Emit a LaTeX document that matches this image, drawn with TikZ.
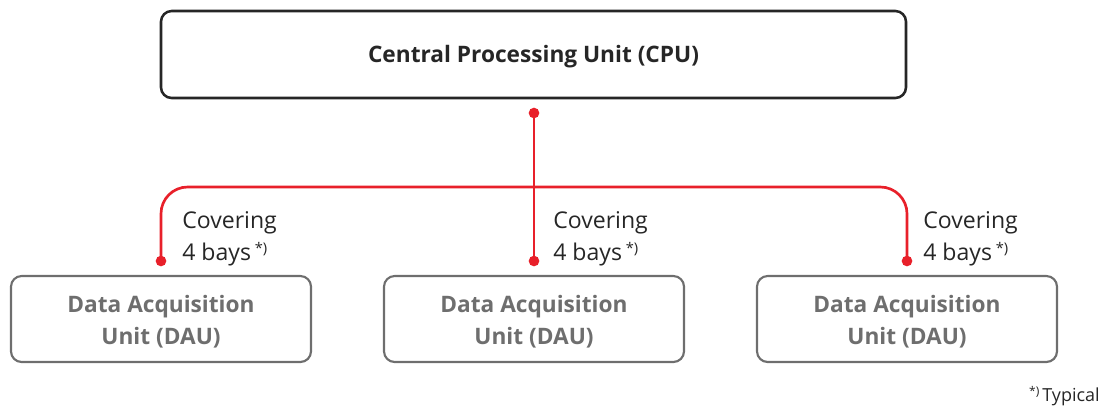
\documentclass[tikz,border=0pt]{standalone}
\usepackage{fontspec}
\setmainfont{Open Sans}
\definecolor{abbred}{HTML}{E8202A}
\definecolor{ink}{HTML}{262626}
\definecolor{unitgrey}{HTML}{6E6E6E}
\tikzset{
  mainbox/.style={draw=ink, line width=1.9pt, rounded corners=8pt, minimum width=558.75pt, minimum height=65.25pt, text=ink},
  unitbox/.style={draw=unitgrey, line width=1.6pt, rounded corners=8pt, minimum width=225pt, minimum height=64.5pt, text=unitgrey},
  boxtext/.style={font=\bfseries\fontsize{17}{24}\selectfont, align=center, inner sep=0pt},
  link/.style={draw=abbred, line width=2pt},
  joint/.style={fill=abbred, circle, inner sep=0pt, minimum size=8pt},
  note/.style={font=\fontsize{17.3}{24}\selectfont, text=ink, align=left, anchor=north west, inner sep=0pt},
}
\begin{document}
\begin{tikzpicture}[x=0.75pt, y=-0.75pt]
  \useasboundingbox (0,0) rectangle (1113,405);
  % processing unit and acquisition units
  \node[mainbox] (cpu) at (533.5,54.5) {};
  \node[boxtext, text=ink] at (533.5,57) {Central Processing Unit (CPU)};
  \foreach \i/\x in {1/161,2/534,3/907} {
    \node[unitbox] (dau\i) at (\x,319) {};
    \node[boxtext, text=unitgrey] at (\x,321.5) {Data Acquisition\\Unit (DAU)};
  }
  % connection points
  \coordinate (top) at (534,113);
  \coordinate (hub) at (534,187);
  \coordinate (end1) at (161,261);
  \coordinate (end2) at (534,261);
  \coordinate (end3) at (907,261);
  % bus lines
  \draw[link] (top) -- (end2);
  \draw[link, rounded corners=20pt] (end1) |- (hub) -| (end3);
  \foreach \p in {top,end1,end2,end3} \node[joint] at (\p) {};
  % coverage notes
  \node[note] (n1) at (182,211) {Covering\\4 bays\,{\fontsize{11}{12}\selectfont\raisebox{0.45em}{*)}}};
  \node[note] (n2) at (553,211) {Covering\\4 bays\,{\fontsize{11}{12}\selectfont\raisebox{0.45em}{*)}}};
  \node[note] (n3) at (923,211) {Covering\\4 bays\,{\fontsize{11}{12}\selectfont\raisebox{0.45em}{*)}}};
  \node[font=\fontsize{13.5}{16}\selectfont, text=ink, anchor=base east, inner sep=0pt] (typ) at (1100,401) {{\fontsize{9}{10}\selectfont\raisebox{0.45em}{*)}}\,Typical};
\end{tikzpicture}
\end{document}
